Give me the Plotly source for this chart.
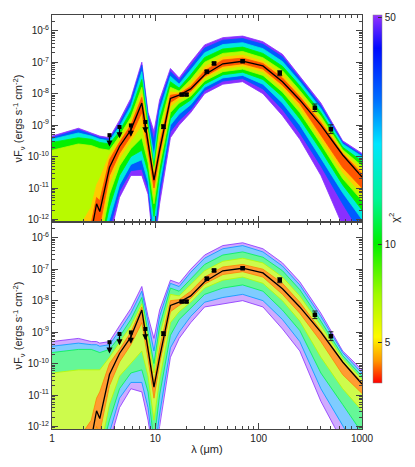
import numpy as np
import plotly.graph_objects as go
from plotly.subplots import make_subplots
from plotly.colors import sample_colorscale, unlabel_rgb

# wavelength grid (micron) shared by every model envelope
lam = [1.0, 1.8, 2.4, 2.7, 2.9, 3.6, 4.5, 5.8, 7.4, 8.5, 9.7, 11.0,
       14.0, 17.0, 22.0, 30.0, 45.0, 70.0, 110.0, 170.0, 250.0, 400.0, 650.0, 1000.0]

# best fit model, log10 nuFnu
best_fit = [-13.5, -13.2, -12.4, -11.5, -11.75, -10.35, -9.68, -9.15, -8.3, -9.6, -10.75, -9.8,
            -8.15, -8.05, -7.85, -7.4, -7.05, -6.97, -7.12, -7.62, -8.2, -9.0, -9.95, -10.65]

# top panel: envelopes of the models, one pair per chi2 level (log10 nuFnu)
top_chi2 = [50, 30, 18, 10, 6.5, 4.8, 4.1]
top_hi_50 = [-9.35, -9.1, -9.25, -9.3, -9.35, -9.4, -8.85, -8.15, -7.0, -8.6, -9.2, -8.2,
             -7.2, -7.5, -7.0, -6.45, -6.22, -6.17, -6.35, -6.75, -7.45, -8.3, -9.5, -9.9]
top_lo_50 = [-13, -13, -13, -13, -13, -12.6, -11.3, -10.6, -10.6, -11.2, -13, -11.5,
             -9.4, -9.0, -8.6, -8.0, -7.7, -7.62, -8.0, -8.7, -9.45, -10.6, -12.2, -13]
top_hi_30 = [-9.4, -9.15, -9.3, -9.35, -9.4, -9.45, -8.95, -8.25, -7.1, -8.7, -9.5, -8.35,
             -7.3, -7.58, -7.1, -6.55, -6.3, -6.25, -6.43, -6.83, -7.52, -8.38, -9.55, -9.95]
top_lo_30 = [-13, -13, -13, -13, -13, -12.3, -11.1, -10.45, -10.4, -11.0, -12.8, -11.2,
             -9.2, -8.85, -8.5, -7.9, -7.6, -7.52, -7.85, -8.5, -9.25, -10.3, -11.5, -12.5]
top_hi_18 = [-9.45, -9.25, -9.35, -9.4, -9.45, -9.5, -9.05, -8.4, -7.3, -8.85, -10.0, -8.55,
             -7.45, -7.7, -7.25, -6.7, -6.44, -6.38, -6.57, -6.98, -7.62, -8.48, -9.6, -10.0]
top_lo_18 = [-13, -13, -13, -13, -13, -12.0, -10.9, -10.25, -10.1, -10.8, -12.4, -10.9,
             -9.0, -8.65, -8.35, -7.8, -7.5, -7.42, -7.7, -8.3, -9.0, -10.05, -11.15, -12.0]
top_hi_10 = [-9.55, -9.4, -9.45, -9.5, -9.55, -9.6, -9.2, -8.55, -7.55, -9.0, -10.3, -8.8,
             -7.62, -7.82, -7.4, -6.85, -6.58, -6.52, -6.72, -7.13, -7.75, -8.6, -9.7, -10.15]
top_lo_10 = [-13, -13, -13, -13, -13, -11.6, -10.6, -10.0, -9.8, -10.5, -11.9, -10.6,
             -8.8, -8.45, -8.2, -7.7, -7.4, -7.32, -7.55, -8.1, -8.8, -9.8, -10.9, -11.7]
top_hi_6 = [-9.8, -9.6, -9.65, -9.7, -9.75, -9.8, -9.35, -8.75, -7.8, -9.2, -10.5, -9.1,
            -7.8, -7.92, -7.55, -7.0, -6.72, -6.66, -6.86, -7.27, -7.9, -8.72, -9.78, -10.3]
top_lo_6 = [-13, -13, -13, -13, -12.8, -11.2, -10.3, -9.75, -9.4, -10.2, -11.5, -10.3,
            -8.6, -8.3, -8.08, -7.6, -7.3, -7.22, -7.42, -7.95, -8.6, -9.6, -10.7, -11.4]
top_hi_5 = [-12.6, -12.3, -11.6, -10.9, -10.7, -9.95, -9.5, -8.9, -8.0, -9.35, -10.6, -9.4,
            -7.95, -7.98, -7.68, -7.15, -6.84, -6.78, -6.97, -7.4, -8.02, -8.83, -9.86, -10.42]
top_lo_5 = [-13, -13, -13, -12.6, -12.5, -10.85, -10.05, -9.5, -9.0, -9.95, -11.2, -10.1,
            -8.4, -8.18, -7.98, -7.5, -7.2, -7.12, -7.3, -7.82, -8.45, -9.45, -10.5, -11.2]
top_hi_4 = [-13, -12.8, -12.1, -11.3, -11.4, -10.1, -9.55, -9.0, -8.12, -9.45, -10.65, -9.6,
            -8.05, -8.01, -7.77, -7.27, -6.93, -6.87, -7.04, -7.5, -8.1, -8.92, -9.9, -10.55]
top_lo_4 = [-13, -13, -13, -12.1, -12.2, -10.6, -9.9, -9.35, -8.6, -9.8, -11.0, -9.95,
            -8.28, -8.1, -7.92, -7.45, -7.13, -7.05, -7.22, -7.73, -8.32, -9.3, -10.35, -11.0]

# bottom panel: fewer models
bot_chi2 = [50, 25, 12, 6.5, 4.3]
bot_hi_50 = [-9.3, -9.2, -9.3, -9.3, -9.35, -9.3, -8.8, -8.25, -7.55, -8.5, -9.2, -8.3,
             -7.35, -7.45, -7.0, -6.55, -6.25, -6.16, -6.35, -6.8, -7.4, -8.4, -9.6, -10.2]
bot_lo_50 = [-13, -13, -13, -13, -13, -12.5, -11.4, -10.8, -10.9, -11.8, -13, -12.0,
             -9.8, -9.2, -8.7, -8.2, -8.1, -8.0, -8.2, -8.9, -9.6, -11.2, -12.5, -13]
bot_hi_25 = [-9.45, -9.35, -9.4, -9.4, -9.45, -9.4, -8.95, -8.4, -7.7, -8.7, -9.6, -8.5,
             -7.45, -7.55, -7.1, -6.65, -6.35, -6.25, -6.45, -6.9, -7.5, -8.5, -9.65, -10.3]
bot_lo_25 = [-13, -13, -13, -13, -13, -12.2, -11.1, -10.6, -10.6, -11.4, -13, -11.6,
             -9.5, -9.0, -8.5, -8.05, -7.9, -7.8, -8.0, -8.6, -9.3, -10.8, -12.0, -13]
bot_hi_12 = [-9.65, -9.55, -9.55, -9.6, -9.65, -9.55, -9.15, -8.6, -7.9, -9.0, -10.0, -8.8,
             -7.6, -7.7, -7.3, -6.85, -6.55, -6.45, -6.62, -7.05, -7.65, -8.65, -9.75, -10.4]
bot_lo_12 = [-13, -13, -13, -13, -13, -11.8, -10.8, -10.3, -10.2, -10.9, -12.5, -11.0,
             -9.1, -8.6, -8.25, -7.8, -7.6, -7.5, -7.7, -8.3, -8.95, -10.3, -11.3, -12.2]
bot_hi_6 = [-10.3, -10.2, -10.2, -10.2, -10.2, -9.8, -9.35, -8.8, -8.1, -9.25, -10.3, -9.1,
            -7.8, -7.85, -7.5, -7.05, -6.75, -6.65, -6.8, -7.25, -7.85, -8.8, -9.85, -10.5]
bot_lo_6 = [-13, -13, -13, -13, -12.8, -11.3, -10.4, -10.0, -9.6, -10.4, -11.8, -10.5,
            -8.7, -8.35, -8.05, -7.6, -7.35, -7.25, -7.45, -8.0, -8.65, -9.8, -10.8, -11.5]
bot_hi_4 = [-12.8, -12.4, -11.8, -11.1, -10.9, -10.0, -9.55, -9.0, -8.2, -9.45, -10.6, -9.5,
            -8.0, -7.97, -7.7, -7.25, -6.93, -6.85, -7.0, -7.45, -8.05, -8.95, -9.93, -10.6]
bot_lo_4 = [-13, -13, -13, -12.0, -12.2, -10.7, -9.95, -9.4, -8.7, -9.85, -11.1, -10.0,
            -8.35, -8.15, -7.93, -7.47, -7.17, -7.08, -7.25, -7.8, -8.4, -9.3, -10.35, -10.95]

# observed photometry (log10 nuFnu) and error in dex
det_lam = [12.0, 18.0, 20.0, 31.5, 37.0, 70.0, 160.0, 350.0, 500.0]
det_logf = [-9.05, -8.03, -8.03, -7.3, -7.04, -6.97, -7.35, -8.45, -9.13]
det_err = [0.06, 0.03, 0.03, 0.04, 0.04, 0.04, 0.08, 0.12, 0.14]
# upper limits
ul_lam = [3.6, 4.5, 5.8, 8.0]
ul_logf = [-9.32, -9.06, -9.01, -8.9]

chi_lo, chi_hi = 3.75, 51.0
chi_scale = [
    [0.00, 'rgb(255,0,0)'],
    [0.06, 'rgb(255,150,0)'],
    [0.125, 'rgb(255,250,0)'],
    [0.24, 'rgb(160,250,0)'],
    [0.38, 'rgb(0,240,0)'],
    [0.50, 'rgb(0,245,150)'],
    [0.65, 'rgb(0,230,255)'],
    [0.77, 'rgb(0,110,255)'],
    [0.91, 'rgb(0,10,255)'],
    [1.00, 'rgb(150,50,255)'],
]

FONT = 'Liberation Sans, Arial, sans-serif'


def chi_colour(chi2):
    f = (np.log10(chi2) - np.log10(chi_lo)) / (np.log10(chi_hi) - np.log10(chi_lo))
    return sample_colorscale(chi_scale, [min(max(f, 0), 1)])[0]


def tint(col, k):
    r, g, b = unlabel_rgb(col)
    return 'rgb(%d,%d,%d)' % (r + (255 - r) * k, g + (255 - g) * k, b + (255 - b) * k)


def lin(vals):
    return [10 ** v for v in vals]


fig = make_subplots(rows=2, cols=1, vertical_spacing=0)

top_bands = [(top_hi_50, top_lo_50), (top_hi_30, top_lo_30), (top_hi_18, top_lo_18),
             (top_hi_10, top_lo_10), (top_hi_6, top_lo_6), (top_hi_5, top_lo_5), (top_hi_4, top_lo_4)]
bot_bands = [(bot_hi_50, bot_lo_50), (bot_hi_25, bot_lo_25), (bot_hi_12, bot_lo_12),
             (bot_hi_6, bot_lo_6), (bot_hi_4, bot_lo_4)]
# the outer, high chi2 models are sparse in the lower panel: paler fill
bot_pale = [0.6, 0.5, 0.4, 0.3, 0.2]

# top panel: dense fan, solid bands
for c2, (hi, lo) in zip(top_chi2, top_bands):
    col = chi_colour(c2)
    fig.add_trace(go.Scatter(x=lam + lam[::-1], y=lin(hi) + lin(lo[::-1]), mode='lines',
                             fill='toself', fillcolor=col, line=dict(color=col, width=0.8),
                             hoverinfo='skip', showlegend=False), row=1, col=1)

# bottom panel: sparser fan, lighter bands with line edges
for c2, (hi, lo), k in zip(bot_chi2, bot_bands, bot_pale):
    col = chi_colour(c2)
    fig.add_trace(go.Scatter(x=lam + lam[::-1], y=lin(hi) + lin(lo[::-1]), mode='lines',
                             fill='toself', fillcolor=tint(col, k), line=dict(width=0),
                             hoverinfo='skip', showlegend=False), row=2, col=1)
for c2, (hi, lo) in zip(bot_chi2, bot_bands):
    col = chi_colour(c2)
    for edge in (hi, lo):
        fig.add_trace(go.Scatter(x=lam, y=lin(edge), mode='lines', line=dict(color=col, width=0.8),
                                 hoverinfo='skip', showlegend=False), row=2, col=1)

det_up = [10 ** (v + e) - 10 ** v for v, e in zip(det_logf, det_err)]
det_dn = [10 ** v - 10 ** (v - e) for v, e in zip(det_logf, det_err)]

for row, xr, yr in [(1, 'x', 'y'), (2, 'x2', 'y2')]:
    fig.add_trace(go.Scatter(x=lam, y=lin(best_fit), mode='lines', line=dict(color='black', width=1.3),
                             hoverinfo='skip', showlegend=False), row=row, col=1)
    fig.add_trace(go.Scatter(x=det_lam, y=lin(det_logf), mode='markers',
                             marker=dict(symbol='square', size=4.5, color='black'),
                             error_y=dict(type='data', array=det_up, arrayminus=det_dn, color='#222',
                                          thickness=1, width=2.5),
                             showlegend=False), row=row, col=1)
    fig.add_trace(go.Scatter(x=ul_lam, y=lin(ul_logf), mode='markers',
                             marker=dict(symbol='square', size=4, color='black'),
                             showlegend=False), row=row, col=1)
    for l, v in zip(ul_lam, ul_logf):
        fig.add_annotation(x=np.log10(l), y=v - 0.36, ax=np.log10(l), ay=v, xref=xr, yref=yr,
                           axref=xr, ayref=yr, text='', showarrow=True, arrowhead=2,
                           arrowsize=1, arrowwidth=1.2, arrowcolor='black')

# colour bar for chi2
fig.add_trace(go.Scatter(x=[None], y=[None], mode='markers', showlegend=False, hoverinfo='skip',
                         marker=dict(color=[1.0], colorscale=chi_scale, showscale=True,
                                     cmin=np.log10(chi_lo), cmax=np.log10(chi_hi),
                                     colorbar=dict(x=1.035, xanchor='left', y=1, yanchor='top',
                                                   len=0.889, lenmode='fraction', thickness=9,
                                                   xpad=0, ypad=0, outlinewidth=0.5, outlinecolor='#888',
                                                   tickvals=list(np.log10([5, 10, 50])),
                                                   ticktext=['5', '10', '50'],
                                                   ticks='inside', ticklen=4, tickcolor='#333',
                                                   tickfont=dict(family=FONT, size=10, color='#222')))),
              row=1, col=1)

axis_font = dict(family=FONT, size=10, color='#222')
xaxis_style = dict(type='log', range=[0, 3], showline=True, linecolor='#444', linewidth=1,
                   mirror='allticks', ticks='inside', ticklen=6, tickcolor='#444',
                   minor=dict(ticks='inside', ticklen=3, tickcolor='#444', dtick='D1'),
                   showgrid=False, zeroline=False, tickfont=axis_font, automargin=False,
                   tickvals=[1, 10, 100, 1000], ticktext=['1', '10', '100', '1000'])
ytick_vals = [10.0 ** p for p in range(-12, -5)]
ytick_text = ['10<sup>%d</sup>' % p for p in range(-12, -5)]
yaxis_style = dict(type='log', range=[-12.08, -5.5], showline=True, linecolor='#444', linewidth=1,
                   mirror='allticks', ticks='inside', ticklen=6, tickcolor='#444',
                   minor=dict(ticks='inside', ticklen=3, tickcolor='#444', dtick='D1'),
                   showgrid=False, zeroline=False, tickfont=axis_font, automargin=False,
                   tickvals=ytick_vals, ticktext=ytick_text,
                   title=dict(text='νF<sub>ν</sub> (ergs s<sup>-1</sup> cm<sup>-2</sup>)',
                              font=dict(family=FONT, size=11, color='#222'), standoff=2))

fig.update_xaxes(**xaxis_style)
fig.update_xaxes(showticklabels=False, row=1, col=1)
fig.update_xaxes(title=dict(text='λ (μm)', font=dict(family=FONT, size=11, color='#222'), standoff=2),
                 row=2, col=1)
fig.update_yaxes(**yaxis_style)
fig.update_layout(yaxis_domain=[0.5, 1], yaxis2_domain=[0, 0.5])

fig.add_annotation(text='χ<sup>2</sup>', xref='paper', yref='paper', x=1.132, y=0.51,
                   showarrow=False, textangle=-90, font=dict(family=FONT, size=11, color='#222'))

# the page puts the figure 8 px in from the top left corner
fig.update_layout(width=407, height=459, margin=dict(l=44, r=53, t=7, b=38, autoexpand=False),
                  plot_bgcolor='white', paper_bgcolor='white',
                  font=dict(family=FONT, size=10, color='#222'))

fig.write_html('out.html')
